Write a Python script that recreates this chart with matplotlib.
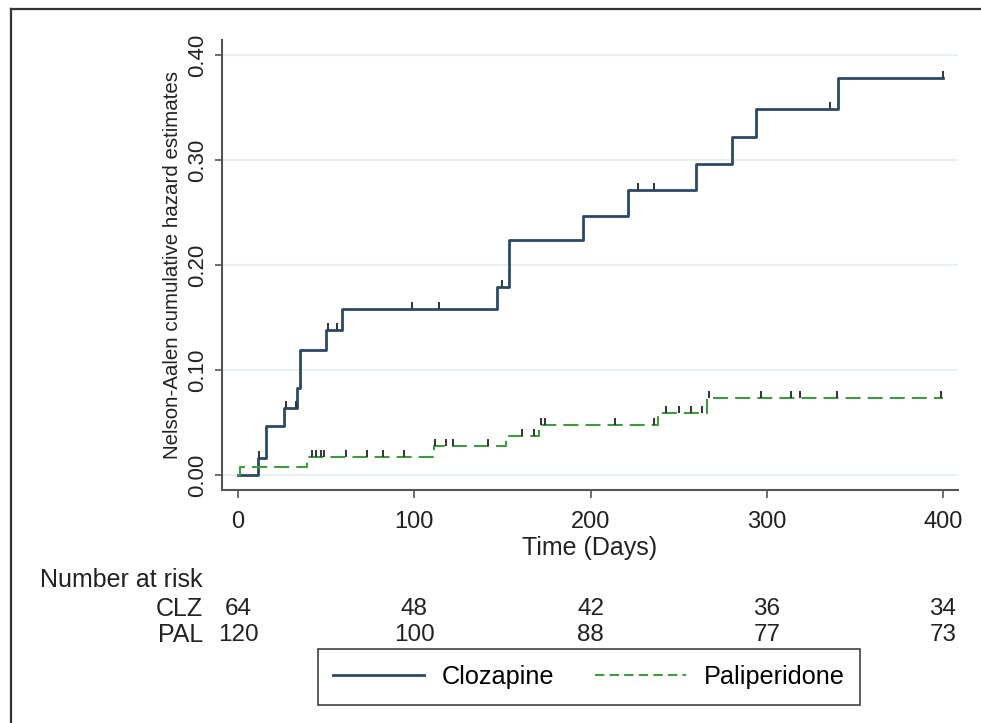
import matplotlib
matplotlib.use("Agg")
import matplotlib.pyplot as plt
import numpy as np
from matplotlib.path import Path
from matplotlib.lines import Line2D
from matplotlib.transforms import blended_transform_factory

plt.rcParams['font.family'] = ['Liberation Sans', 'DejaVu Sans']

# ---------------- data ----------------
clz_times = [0, 11.5, 16, 26, 33.5, 35, 50, 59, 147, 154, 196, 221, 260, 280, 294, 340.5, 400]
clz_haz = [0, 0.016, 0.047, 0.064, 0.083, 0.119, 0.138, 0.158, 0.179, 0.224, 0.247, 0.271,
           0.296, 0.322, 0.349, 0.378, 0.378]
clz_cens = [12, 27, 33, 51, 56, 99, 114, 150, 227, 236, 336, 400]

pal_times = [0, 1, 39, 111, 152, 171, 238.5, 266, 400]
pal_haz = [0, 0.008, 0.017, 0.028, 0.037, 0.048, 0.059, 0.073, 0.073]
pal_cens = [42, 44, 47, 49, 61, 73, 82, 94, 112, 118, 122, 142, 161, 168, 172, 174,
            214, 236, 243, 250, 257, 263, 267, 297, 314, 319, 340, 399]

risk_times = [0, 100, 200, 300, 400]
clz_risk = [64, 48, 42, 36, 34]
pal_risk = [120, 100, 88, 77, 73]
group_labels = ['CLZ', 'PAL']
legend_labels = ['Clozapine', 'Paliperidone']
y_ticks = [0.0, 0.1, 0.2, 0.3, 0.4]
x_ticks = [0, 100, 200, 300, 400]

CLZ_COLOR = '#2a4868'
PAL_COLOR = '#3f9b3f'
CENS_COLOR = '#333333'

W, H = 981, 723
fig = plt.figure(figsize=(W / 100, H / 100), dpi=100)
fig.patch.set_facecolor('white')

ax = fig.add_axes([222 / W, (H - 490) / H, (958 - 222) / W, (490 - 40) / H])
ax.set_xlim(-9.08, 408.5)
ax.set_ylim(-0.01429, 0.4143)


def step_value(times, haz, t):
    idx = np.searchsorted(times, t, side='right') - 1
    return np.asarray(haz)[idx]


ax.step(clz_times, clz_haz, where='post', color=CLZ_COLOR, lw=2.0, zorder=3)
ax.step(pal_times, pal_haz, where='post', color=PAL_COLOR, lw=1.5,
        linestyle=(0, (7.2, 3.4)), zorder=3)

cens_marker = Path([(0, 0), (0, 1)], [Path.MOVETO, Path.LINETO])
ax.plot(clz_cens, step_value(clz_times, clz_haz, clz_cens), linestyle='none',
        marker=cens_marker, ms=10, mew=1.4, mec=CENS_COLOR, zorder=4)
ax.plot(pal_cens, step_value(pal_times, pal_haz, pal_cens), linestyle='none',
        marker=cens_marker, ms=10, mew=1.4, mec=CENS_COLOR, zorder=4)

# axes styling
for s in ['top', 'right']:
    ax.spines[s].set_visible(False)
for s in ['left', 'bottom']:
    ax.spines[s].set_color('#555555')
    ax.spines[s].set_linewidth(1.5)

ax.set_yticks(y_ticks)
ax.set_yticklabels([f'{v:.2f}' for v in y_ticks], rotation=90, va='center', fontsize=16)
ax.set_xticks(x_ticks)
ax.set_xticklabels([str(v) for v in x_ticks], fontsize=17)
ax.tick_params(axis='y', length=5, width=1.2, color='#555555', pad=5, labelcolor='#222222')
ax.tick_params(axis='x', length=6, width=1.2, color='#555555', pad=9, labelcolor='#222222')
ax.yaxis.grid(True, color='#e6eced', lw=1.2)
ax.set_axisbelow(True)

ax.set_ylabel('Nelson-Aalen cumulative hazard estimates', fontsize=14.8, color='#222222')
ax.yaxis.label.set_va('center')
ax.yaxis.set_label_coords((172 - 222) / 736, 0.5)
ax.set_xlabel('Time (Days)', fontsize=18, color='#222222')
ax.xaxis.label.set_va('center')
ax.xaxis.set_label_coords(0.5, (490 - 548) / 450)

# number at risk table
trans = blended_transform_factory(ax.transData, fig.transFigure)
fig.text(40 / W, 1 - 580 / H, 'Number at risk', ha='left', va='center', fontsize=18, color='#222222')
for row_y, lab, vals in [(609, group_labels[0], clz_risk), (635, group_labels[1], pal_risk)]:
    fig.text(203 / W, 1 - row_y / H, lab, ha='right', va='center', fontsize=18, color='#222222')
    for t, n in zip(risk_times, vals):
        ax.text(t, 1 - row_y / H, str(n), transform=trans, ha='center', va='center',
                fontsize=17.5, color='#222222', clip_on=False)

# legend
handles = [Line2D([], [], color=CLZ_COLOR, lw=2.0),
           Line2D([], [], color=PAL_COLOR, lw=1.5, linestyle=(0, (4.5, 2.5)))]
leg = fig.legend(handles, legend_labels, loc='center', bbox_to_anchor=(589 / W, 1 - 677 / H),
                 ncol=2, frameon=True, fancybox=False, edgecolor='#111111', fontsize=18.2,
                 handlelength=3.6, handletextpad=0.7, columnspacing=1.6, borderpad=0.62)
leg.get_frame().set_linewidth(1.2)

# outer frame (top and left edges visible)
fig.add_artist(Line2D([11 / W, 11 / W], [0, 1 - 9 / H], transform=fig.transFigure,
                      color='#333333', lw=1.6))
fig.add_artist(Line2D([11 / W, 1], [1 - 9 / H, 1 - 9 / H], transform=fig.transFigure,
                      color='#333333', lw=1.6))

fig.savefig('out.png', dpi=100, facecolor='white')
